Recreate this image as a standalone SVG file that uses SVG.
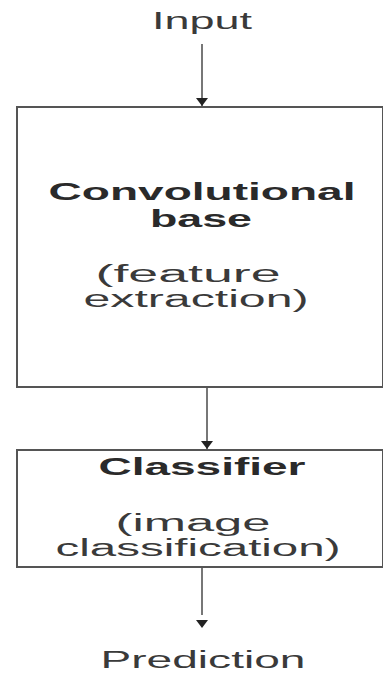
<svg xmlns="http://www.w3.org/2000/svg" width="383" height="675" viewBox="0 0 383 675">
<style>
.box{fill:#fff;stroke:#555;stroke-width:2}
.t{font-family:"Liberation Sans",Arial,sans-serif;font-size:23px;fill:#3a3a3a;text-anchor:middle}
.b{font-weight:bold;fill:#2a2a2a}
.c{stroke:#777;stroke-width:2;fill:none}
.h{fill:#222}
</style>
<defs>
<marker id="ah" viewBox="0 0 8 12" refX="8" refY="6" markerWidth="8" markerHeight="12" markerUnits="userSpaceOnUse" orient="auto">
<path d="M0,0 L8,6 L0,12 Z" fill="#222"/>
</marker>
</defs>
<rect width="383" height="675" fill="#fff"/>
<g id="input"><text class="t" x="202" y="29" textLength="100" lengthAdjust="spacingAndGlyphs">Input</text></g>
<g id="conv">
<rect class="box" x="17" y="107" width="366" height="280"/>
<text class="t b" x="202" y="200" textLength="307" lengthAdjust="spacingAndGlyphs">Convolutional</text>
<text class="t b" x="201" y="227" textLength="102" lengthAdjust="spacingAndGlyphs">base</text>
<text class="t" x="188" y="282" textLength="185" lengthAdjust="spacingAndGlyphs">(feature</text>
<text class="t" x="196" y="307" textLength="225" lengthAdjust="spacingAndGlyphs">extraction)</text>
</g>
<g id="classifier">
<rect class="box" x="17" y="450" width="366" height="117"/>
<text class="t b" x="202" y="475" textLength="207" lengthAdjust="spacingAndGlyphs">Classifier</text>
<text class="t" x="193" y="531" textLength="155" lengthAdjust="spacingAndGlyphs">(image</text>
<text class="t" x="198" y="556" textLength="285" lengthAdjust="spacingAndGlyphs">classification)</text>
</g>
<g id="prediction"><text class="t" x="203" y="668" textLength="205" lengthAdjust="spacingAndGlyphs">Prediction</text></g>
<g id="connectors">
<line class="c" x1="202" y1="44" x2="202" y2="106" marker-end="url(#ah)"/>
<line class="c" x1="207" y1="388" x2="207" y2="449" marker-end="url(#ah)"/>
<line class="c" x1="202" y1="568" x2="202" y2="615"/>
<path class="h" d="M196,620 L208,620 L202,628 Z"/>
</g>
</svg>
